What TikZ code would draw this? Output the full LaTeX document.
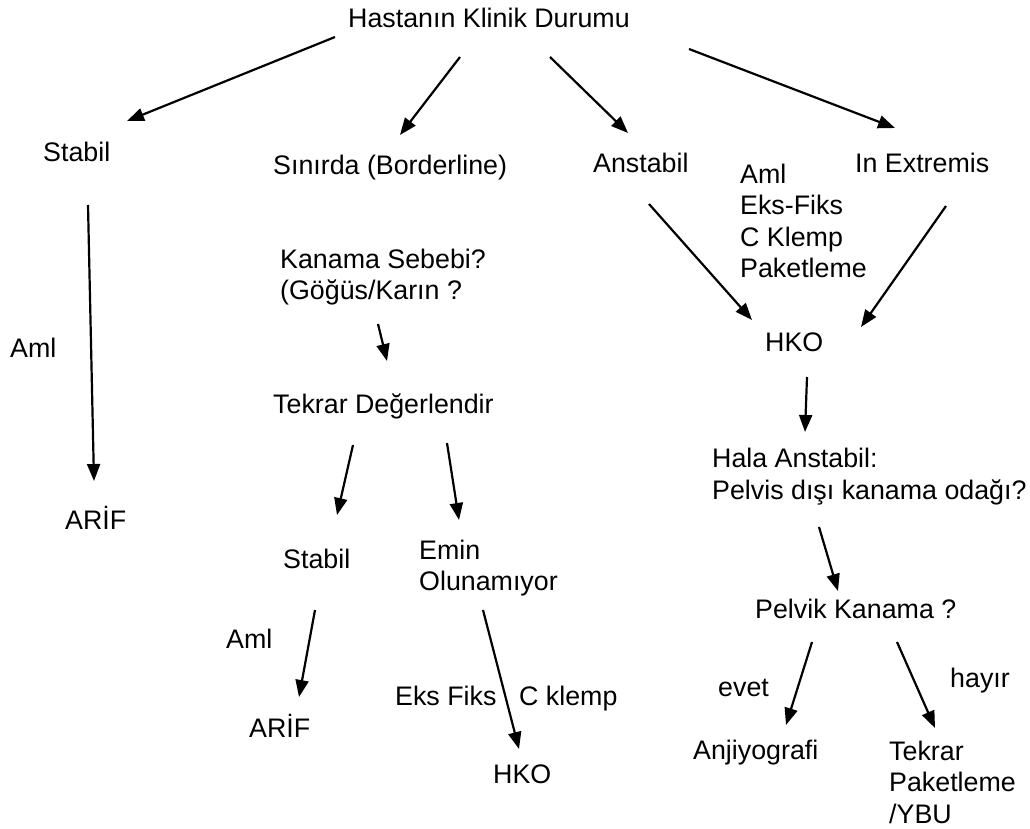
\documentclass[tikz,border=0pt]{standalone}
\usepackage{fontspec}
\setmainfont{Liberation Sans}
\usetikzlibrary{arrows.meta}
\begin{document}
\begin{tikzpicture}[x=1pt,y=-1pt,
  lbl/.style={anchor=base west,inner sep=0pt,align=left,font=\fontsize{26.8}{31.5}\selectfont},
  arr/.style={line width=2.2pt,-{Triangle[length=17pt,width=13pt]}}]
\useasboundingbox (0,0) rectangle (1030,829);
% nodes (multi-line nodes are placed by the baseline of their last line)
\node[lbl] (top) at (348,28) {Hastanın Klinik Durumu};
\node[lbl] (stab) at (43,162) {Stabil};
\node[lbl] (sin) at (273,175) {Sınırda (Borderline)};
\node[lbl] (anst) at (593,173) {Anstabil};
\node[lbl] (inex) at (855,173) {In Extremis};
\node[lbl] (amlr) at (740,277.5) {Aml\\Eks-Fiks\\C Klemp\\Paketleme};
\node[lbl] (hko) at (765,351) {HKO};
\node[lbl] (hala) at (712,499) {Hala Anstabil:\\Pelvis dışı kanama odağı?};
\node[lbl] (pelv) at (755,618) {Pelvik Kanama ?};
\node[lbl] (evet) at (718,696) {evet};
\node[lbl] (hayir) at (950,687) {hayır};
\node[lbl] (anj) at (693,759) {Anjiyografi};
\node[lbl] (tekp) at (889,823) {Tekrar\\Paketleme\\/YBU};
\node[lbl] (amll) at (10,357) {Aml};
\node[lbl] (arif) at (65,529) {ARİF};
\node[lbl] (kan) at (280,299.5) {Kanama Sebebi?\\(Göğüs/Karın ?};
\node[lbl] (tek) at (273,413) {Tekrar Değerlendir};
\node[lbl] (stab2) at (283,568) {Stabil};
\node[lbl] (emin) at (419,590.5) {Emin\\Olunamıyor};
\node[lbl] (aml3) at (226,648) {Aml};
\node[lbl] (arif2) at (249,737) {ARİF};
\node[lbl] (eks) at (395,705) {Eks Fiks};
\node[lbl] (ckl) at (519,705) {C klemp};
\node[lbl] (hko2) at (493,783) {HKO};
% connector end points
\coordinate (a1s) at (335,37);  \coordinate (a1e) at (127,121);
\coordinate (a2s) at (460,57);  \coordinate (a2e) at (400,135);
\coordinate (a3s) at (550,57);  \coordinate (a3e) at (628,133);
\coordinate (a4s) at (689,49);  \coordinate (a4e) at (895,128);
\coordinate (a5s) at (649,204); \coordinate (a5e) at (752,320);
\coordinate (a6s) at (946,206); \coordinate (a6e) at (861,327);
\coordinate (a7s) at (88,205);  \coordinate (a7e) at (94,481);
\coordinate (a8s) at (378,324); \coordinate (a8e) at (387,361);
\coordinate (a9s) at (353,445); \coordinate (a9e) at (337,515);
\coordinate (a10s) at (447,443); \coordinate (a10e) at (459,520);
\coordinate (a11s) at (315,610); \coordinate (a11e) at (299,697);
\coordinate (a12s) at (483,610); \coordinate (a12e) at (519,749);
\coordinate (a13s) at (807,377); \coordinate (a13e) at (805,432);
\coordinate (a14s) at (819,527); \coordinate (a14e) at (838,591);
\coordinate (a15s) at (812,642); \coordinate (a15e) at (786,725);
\coordinate (a16s) at (897,642); \coordinate (a16e) at (935,728);
\foreach \i in {1,...,16} {\draw[arr] (a\i s) -- (a\i e);}
\end{tikzpicture}
\end{document}
